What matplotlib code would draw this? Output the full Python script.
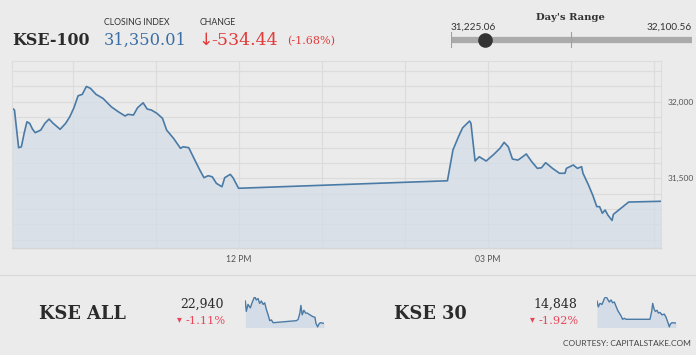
import matplotlib
matplotlib.use("Agg")
import matplotlib.pyplot as plt

# KSE-100 intraday (time, index level)
kse100_times = ["9:16", "9:18", "9:21", "9:23", "9:25", "9:27", "9:29", "9:31", "9:33", "9:37",
                "9:40", "9:43", "9:46", "9:51", "9:55", "9:58", "10:01", "10:04", "10:07", "10:10",
                "10:13", "10:17", "10:22", "10:28", "10:33", "10:38", "10:40", "10:44", "10:47", "10:51",
                "10:54", "10:57", "11:01", "11:05", "11:08", "11:13", "11:18", "11:20", "11:24", "11:29",
                "11:32", "11:35", "11:38", "11:41", "11:44", "11:48", "11:50", "11:54", "11:56", "12:00",
                "14:31", "14:35", "14:39", "14:42", "14:47", "14:48", "14:51", "14:54", "14:59",
                "15:04", "15:09", "15:12", "15:15", "15:18", "15:22", "15:26", "15:28", "15:32", "15:36",
                "15:39", "15:42", "15:47", "15:52", "15:56", "15:57",
                "16:02", "16:05", "16:08", "16:09", "16:13", "16:16", "16:19", "16:21", "16:23", "16:25",
                "16:27", "16:30", "16:31", "16:42", "17:05"]
kse100_values = [31961, 31946, 31700, 31706, 31794, 31869, 31859, 31822, 31798, 31815,
                 31859, 31887, 31859, 31820, 31859, 31902, 31961, 32039, 32048, 32100,
                 32087, 32048, 32022, 31967, 31935, 31907, 31918, 31913, 31961, 31993,
                 31952, 31946, 31924, 31892, 31815, 31761, 31696, 31706, 31700, 31608,
                 31554, 31504, 31517, 31510, 31467, 31445, 31504, 31526, 31504, 31435,
                 31484, 31685, 31772, 31830, 31874, 31859, 31613, 31641, 31613,
                 31652, 31696, 31735, 31706, 31626, 31619, 31645, 31659, 31608, 31565,
                 31569, 31602, 31565, 31533, 31533, 31565,
                 31587, 31565, 31576, 31533, 31456, 31391, 31315, 31315, 31272, 31293,
                 31260, 31225, 31265, 31345, 31350]

# sparklines (hours, level)
kseall_hours = [9.27, 9.37, 9.54, 9.77, 9.97, 10.20, 10.37, 10.54, 10.70, 10.87, 11.04, 11.20,
                11.37, 11.54, 11.70, 11.87, 12.04, 14.37, 14.53, 14.70, 14.80, 14.93, 15.10,
                15.27, 15.43, 15.70, 15.97, 16.20, 16.30, 16.47, 16.63, 16.77, 17.10]
kseall_values = [23198, 23079, 23159, 23119, 23186, 23250, 23210, 23226, 23170, 23198, 23159, 23178,
                 23099, 23039, 22972, 22980, 22948, 22972, 22987, 23059, 23147, 23039, 23091,
                 23059, 23059, 23039, 23019, 23011, 22940, 22900, 22940, 22948, 22940]
kse30_hours = [9.27, 9.40, 9.57, 9.77, 10.00, 10.16, 10.33, 10.49, 10.66, 10.82, 10.99, 11.15,
               11.32, 11.48, 11.65, 11.81, 11.98, 12.14, 14.52, 14.69, 14.79, 14.92, 15.05,
               15.22, 15.35, 15.51, 15.71, 15.94, 16.11, 16.27, 16.44, 16.54, 16.70, 17.10]
kse30_values = [15124, 15050, 15094, 15081, 15154, 15180, 15145, 15111, 15137, 15102, 15111, 15059,
                15007, 14973, 14938, 14895, 14908, 14895, 14895, 14994, 15094, 15025, 14994,
                15007, 14973, 14981, 14951, 14960, 14921, 14865, 14800, 14835, 14852, 14848]

closing = 31350.01
change = -534.44
change_pct = -1.68
day_low = 31225.06
day_high = 32100.56

W, H = 696, 355
BG = "#ebebeb"
LINE = "#4a7aa6"
FILL = "#d4dde7"
RED = "#e23b3b"
BLUE = "#3b6ea5"
DARK = "#2b2b2b"


def fx(x):
    return x / W


def fy(y):
    return 1 - y / H


def to_hours(t):
    h, m = t.split(":")
    return int(h) + int(m) / 60


fig = plt.figure(figsize=(W / 100, H / 100), dpi=100, facecolor=BG)

# ---- header ----
fig.text(fx(12), fy(45), "KSE-100", family="DejaVu Serif", weight="bold", size=11.4, color=DARK)
fig.text(fx(104), fy(25), "CLOSING INDEX", family="Lato", size=6.3, color="#333333")
fig.text(fx(104), fy(45), f"{closing:,.2f}", family="DejaVu Serif", size=11.7, color=BLUE)
fig.text(fx(200), fy(25), "CHANGE", family="Lato", size=6.3, color="#333333")
fig.text(fx(198), fy(45), "\u2193", family="DejaVu Sans", size=12.5, color=RED)
fig.text(fx(211), fy(45), f"{change:.2f}", family="DejaVu Serif", size=12.5, color=RED)
fig.text(fx(287), fy(44), f"({change_pct:.2f}%)", family="DejaVu Serif", size=8, color=RED)

# day's range slider
rng = fig.add_axes([fx(450.7), fy(48), fx(691.7) - fx(450.7), fy(32) - fy(48)])
rng.set_xlim(day_low, day_high)
rng.set_ylim(-1, 1)
rng.axis("off")
rng.plot([day_low, day_high], [0, 0], color="#ababab", lw=4.5, solid_capstyle="butt")
for v in (day_low, (day_low + day_high) / 2, day_high):
    rng.plot([v, v], [-1, 1], color="#a0a0a0", lw=0.8)
rng.plot([closing], [0], "o", color="#333333", ms=9.5)
fig.text(fx(570), fy(20), "Day's Range", family="DejaVu Serif", weight="bold", size=7.2,
         color="#333333", ha="center")
fig.text(fx(450.7), fy(29.5), f"{day_low:,.2f}", family="Lato", size=7.2, color="#333333")
fig.text(fx(691.7), fy(29.5), f"{day_high:,.2f}", family="Lato", size=7.2, color="#333333", ha="right")

# ---- main chart ----
ax = fig.add_axes([fx(11.7), fy(248), fx(661) - fx(11.7), fy(60.7) - fy(248)])
ax.set_facecolor(BG)
xs = [to_hours(t) for t in kse100_times]
ax.set_xlim(9 + 16 / 60, 17.09)
ax.set_ylim(31045, 32268)
ax.fill_between(xs, kse100_values, 31045, color=FILL, alpha=0.75, lw=0)
ax.plot(xs, kse100_values, color=LINE, lw=1.2)

ygrid = list(range(31100, 32300, 100))
ax.set_yticks(ygrid)
ax.set_yticklabels([f"{v:,}" if v in (31500, 32000) else "" for v in ygrid])
ax.set_xticks(range(10, 18))
ax.set_xticklabels(["12 PM" if h == 12 else "03 PM" if h == 15 else "" for h in range(10, 18)])
ax.yaxis.tick_right()
ax.tick_params(axis="y", length=0, pad=5, labelsize=6, labelcolor="#555555")
ax.tick_params(axis="x", length=0, pad=5, labelsize=6.2, labelcolor="#555555")
for lab in ax.get_xticklabels() + ax.get_yticklabels():
    lab.set_family("Lato")
ax.grid(True, color="#dcdcdc", lw=0.9)
ax.set_axisbelow(True)
for side in ("left", "top", "right"):
    ax.spines[side].set_color("#dddddd")
    ax.spines[side].set_linewidth(0.8)
ax.spines["bottom"].set_color("#d6d6d6")
ax.spines["bottom"].set_linewidth(1.0)

# separator
fig.add_artist(plt.Line2D([0, 1], [fy(275), fy(275)], color="#d8d8d8", lw=0.8))

# ---- bottom: other indices ----
bottom = [
    ("KSE ALL", 39, 224, kseall_hours, kseall_values, 245.3, 324, -1.11),
    ("KSE 30", 394, 577, kse30_hours, kse30_values, 597, 676, -1.92),
]
for name, xname, xnum, hrs, vals, sx0, sx1, pct in bottom:
    fig.text(fx(xname), fy(319.3), name, family="DejaVu Serif", weight="bold", size=12.8, color=DARK)
    fig.text(fx(xnum), fy(308), f"{vals[-1]:,}", family="DejaVu Serif", size=9, color=DARK, ha="right")
    fig.text(fx(xnum + 2), fy(323.5), f"{pct:.2f}%", family="DejaVu Serif", size=8.2, color="#e8465a", ha="right")
    fig.text(fx(xnum - 47), fy(322), "\u25be", family="DejaVu Sans", size=7, color="#e8465a")
    sp = fig.add_axes([fx(sx0), fy(327.5), fx(sx1) - fx(sx0), fy(296.5) - fy(327.5)])
    lo = min(vals) - (max(vals) - min(vals)) * 0.02
    sp.set_xlim(hrs[0], hrs[-1])
    sp.set_ylim(lo, max(vals))
    sp.fill_between(hrs, vals, lo, color=FILL, lw=0)
    sp.plot(hrs, vals, color=LINE, lw=1.0)
    sp.axis("off")

fig.text(fx(691), fy(346.5), "COURTESY: CAPITALSTAKE.COM", family="Lato", size=6, color="#444444", ha="right")

fig.savefig("out.png", dpi=100, facecolor=BG)
